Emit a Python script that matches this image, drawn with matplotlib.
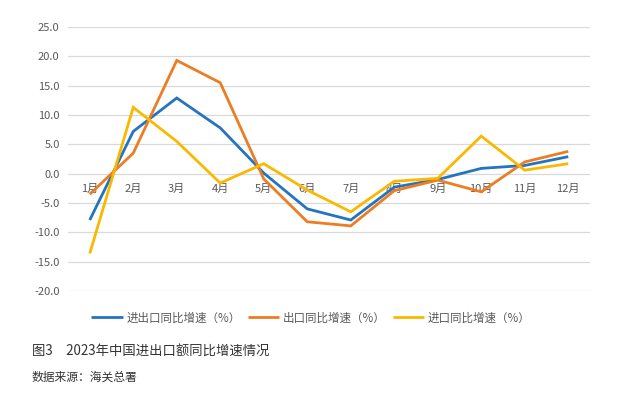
import matplotlib
matplotlib.use("Agg")
import matplotlib.pyplot as plt

plt.rcParams['font.family'] = ['Noto Sans CJK SC', 'DejaVu Sans']

months = ["1月", "2月", "3月", "4月", "5月", "6月", "7月", "8月", "9月", "10月", "11月", "12月"]
total = [-7.9, 7.2, 12.9, 7.8, 0.1, -6.0, -7.9, -2.3, -1.0, 0.9, 1.4, 2.9]
exports = [-3.5, 3.5, 19.3, 15.5, -0.9, -8.2, -8.9, -2.9, -1.1, -3.1, 2.0, 3.8]
imports = [-13.6, 11.3, 5.5, -1.6, 1.7, -2.8, -6.5, -1.3, -0.8, 6.4, 0.6, 1.7]
series_labels = ["进出口同比增速（%）", "出口同比增速（%）", "进口同比增速（%）"]
yticks = [-20, -15, -10, -5, 0, 5, 10, 15, 20, 25]
caption = "图3　2023年中国进出口额同比增速情况"
source = "数据来源：海关总署"

colors = ["#2474C0", "#EC7D22", "#FBB800"]

fig = plt.figure(figsize=(6.25, 3.98), dpi=100)
ax = fig.add_axes([68/625, 1-291/398, (590-68)/625, (291-27)/398])

x = list(range(len(months)))
for vals, c, lab in zip([total, exports, imports], colors, series_labels):
    ax.plot(x, vals, color=c, lw=2.0, label=lab, solid_joinstyle='miter', solid_capstyle='butt')

ax.set_xlim(-0.5, len(months) - 0.5)
ax.set_ylim(-20, 25)
ax.set_yticks(yticks)
ax.set_yticklabels([f"{v:.1f}" for v in yticks])
ax.yaxis.grid(True, color="#D9D9D9", lw=0.9)
ax.set_axisbelow(True)
for s in ["top", "right", "left"]:
    ax.spines[s].set_visible(False)
ax.spines["bottom"].set_position(("data", 0))
ax.spines["bottom"].set_visible(False)
ax.set_xticks(x)
ax.set_xticklabels(months)
ax.tick_params(axis="x", length=0, pad=7, labelsize=8, labelcolor="#595959")
ax.tick_params(axis="y", length=0, pad=6, labelsize=8, labelcolor="#595959")

leg = fig.legend(loc="center", bbox_to_anchor=(311/625, 1-318/398), ncol=3, frameon=False,
                 fontsize=8.3, handlelength=2.7, handletextpad=0.35, columnspacing=0.6,
                 labelcolor="#595959")

fig.text(32/625, 1-352/398, caption, fontsize=9.6, color="#333333", va="center", ha="left")
fig.text(32/625, 1-377/398, source, fontsize=8.5, color="#333333", va="center", ha="left")

fig.savefig("out.png", dpi=100)
